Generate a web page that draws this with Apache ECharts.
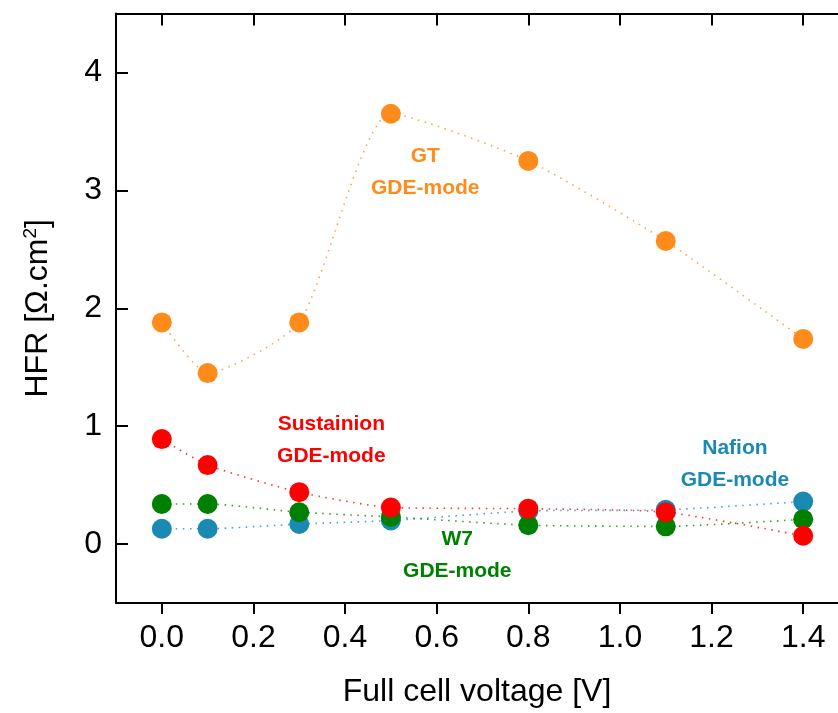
<!DOCTYPE html>
<html>
<head>
<meta charset="utf-8">
<title>HFR vs full cell voltage</title>
<script src="https://cdn.jsdelivr.net/npm/echarts@6/dist/echarts.min.js"></script>
<style>
  html, body { margin: 0; padding: 0; background: #ffffff; }
  #chart { width: 838px; height: 713px; }
</style>
</head>
<body>
<div id="chart"></div>
<script>
// Full cell voltage (V) at which HFR was measured
const voltages = [0.0, 0.1, 0.3, 0.5, 0.8, 1.1, 1.4];

// HFR (Ohm.cm^2) per membrane, GDE-mode
const gtHFR         = [1.88, 1.45, 1.88, 3.65, 3.25, 2.57, 1.74];
const nafionHFR     = [0.13, 0.13, 0.17, 0.20, 0.28, 0.29, 0.36];
const w7HFR         = [0.34, 0.34, 0.27, 0.23, 0.16, 0.15, 0.21];
const sustainionHFR = [0.89, 0.67, 0.44, 0.31, 0.30, 0.27, 0.07];

// Axis ticks
const xTicks = [0.0, 0.2, 0.4, 0.6, 0.8, 1.0, 1.2, 1.4];
const yTicks = [0, 1, 2, 3, 4];

// Series names, colours and in-plot annotations (anchored in data units)
const seriesNames  = ['GT', 'Nafion', 'W7', 'Sustainion'];
const seriesColors = ['#ff8c1a', '#1a8ab3', '#008000', '#ff0000'];
const noteX = [0.575, 1.251, 0.645, 0.370];
const noteY = [3.150, 0.676, -0.097, 0.883];

const seriesValues = [gtHFR, nafionHFR, w7HFR, sustainionHFR];

const tickFont = { fontFamily: 'Liberation Sans', fontSize: 32, color: '#000' };
const axisLine = { show: true, onZero: false, lineStyle: { color: '#000', width: 2 } };

const lineSeries = seriesNames.map((name, i) => ({
  name: name,
  type: 'line',
  xAxisIndex: 0,
  yAxisIndex: 0,
  data: voltages.map((v, k) => [v, seriesValues[i][k]]),
  smooth: 0.2,
  symbol: 'circle',
  symbolSize: 20,
  itemStyle: { color: seriesColors[i] },
  lineStyle: { color: seriesColors[i], width: 1.6, type: [1.5, 5.5], opacity: 0.8 },
  z: 3 + i
}));

const noteSeries = seriesNames.map((name, i) => ({
  name: name + ' note',
  type: 'scatter',
  xAxisIndex: 0,
  yAxisIndex: 0,
  silent: true,
  symbol: 'circle',
  symbolSize: 1,
  itemStyle: { color: 'rgba(0,0,0,0)', opacity: 1 },
  data: [[noteX[i], noteY[i]]],
  label: {
    show: true,
    position: 'inside',
    formatter: name + '\nGDE-mode',
    fontFamily: 'Liberation Sans',
    fontWeight: 'bold',
    fontSize: 21,
    lineHeight: 32,
    align: 'center',
    verticalAlign: 'middle',
    opacity: 1,
    color: seriesColors[i]
  },
  labelLayout: { hideOverlap: false },
  z: 10
}));

const chart = echarts.init(document.getElementById('chart'), null, { renderer: 'canvas' });

// The frame runs off the right edge, so the x range stops where the canvas ends
const xMin = -0.1, xMax = 1.476;

chart.setOption({
  animation: false,
  backgroundColor: '#ffffff',
  grid: { left: 116, right: 0, top: 13.5, bottom: 107, containLabel: false },
  xAxis: [
    {
      type: 'value',
      position: 'bottom',
      min: xMin,
      max: xMax,
      axisLine: axisLine,
      splitLine: { show: false },
      axisTick: { show: true, inside: false, length: 11, customValues: xTicks,
                  lineStyle: { color: '#000', width: 2 } },
      axisLabel: Object.assign({ margin: 19, customValues: xTicks,
                  formatter: v => v.toFixed(1) }, tickFont),
      name: 'Full cell voltage [V]',
      nameLocation: 'middle',
      nameGap: 73,
      nameTextStyle: { fontFamily: 'Liberation Sans', fontSize: 32, color: '#000',
                       padding: [0, 0, 0, 0] }
    },
    {
      type: 'value',
      position: 'top',
      min: xMin,
      max: xMax,
      axisLine: axisLine,
      splitLine: { show: false },
      axisTick: { show: true, inside: true, length: 12, customValues: xTicks,
                  lineStyle: { color: '#000', width: 2 } },
      axisLabel: { show: false }
    }
  ],
  yAxis: [
    {
      type: 'value',
      min: -0.5,
      max: 4.5,
      axisLine: axisLine,
      splitLine: { show: false },
      axisTick: { show: true, inside: true, length: 12, customValues: yTicks,
                  lineStyle: { color: '#000', width: 2 } },
      axisLabel: Object.assign({ margin: 14, customValues: yTicks }, tickFont),
      name: 'HFR [\u03A9.cm{sup|2}]',
      nameLocation: 'middle',
      nameGap: 60,
      nameTextStyle: {
        fontFamily: 'Liberation Sans', fontSize: 32, color: '#000',
        rich: { sup: { fontFamily: 'Liberation Sans', fontSize: 19, color: '#000',
                       verticalAlign: 'top', padding: [0, 0, 16, 0] } }
      }
    }
  ],
  series: lineSeries.concat(noteSeries)
});
</script>
</body>
</html>
